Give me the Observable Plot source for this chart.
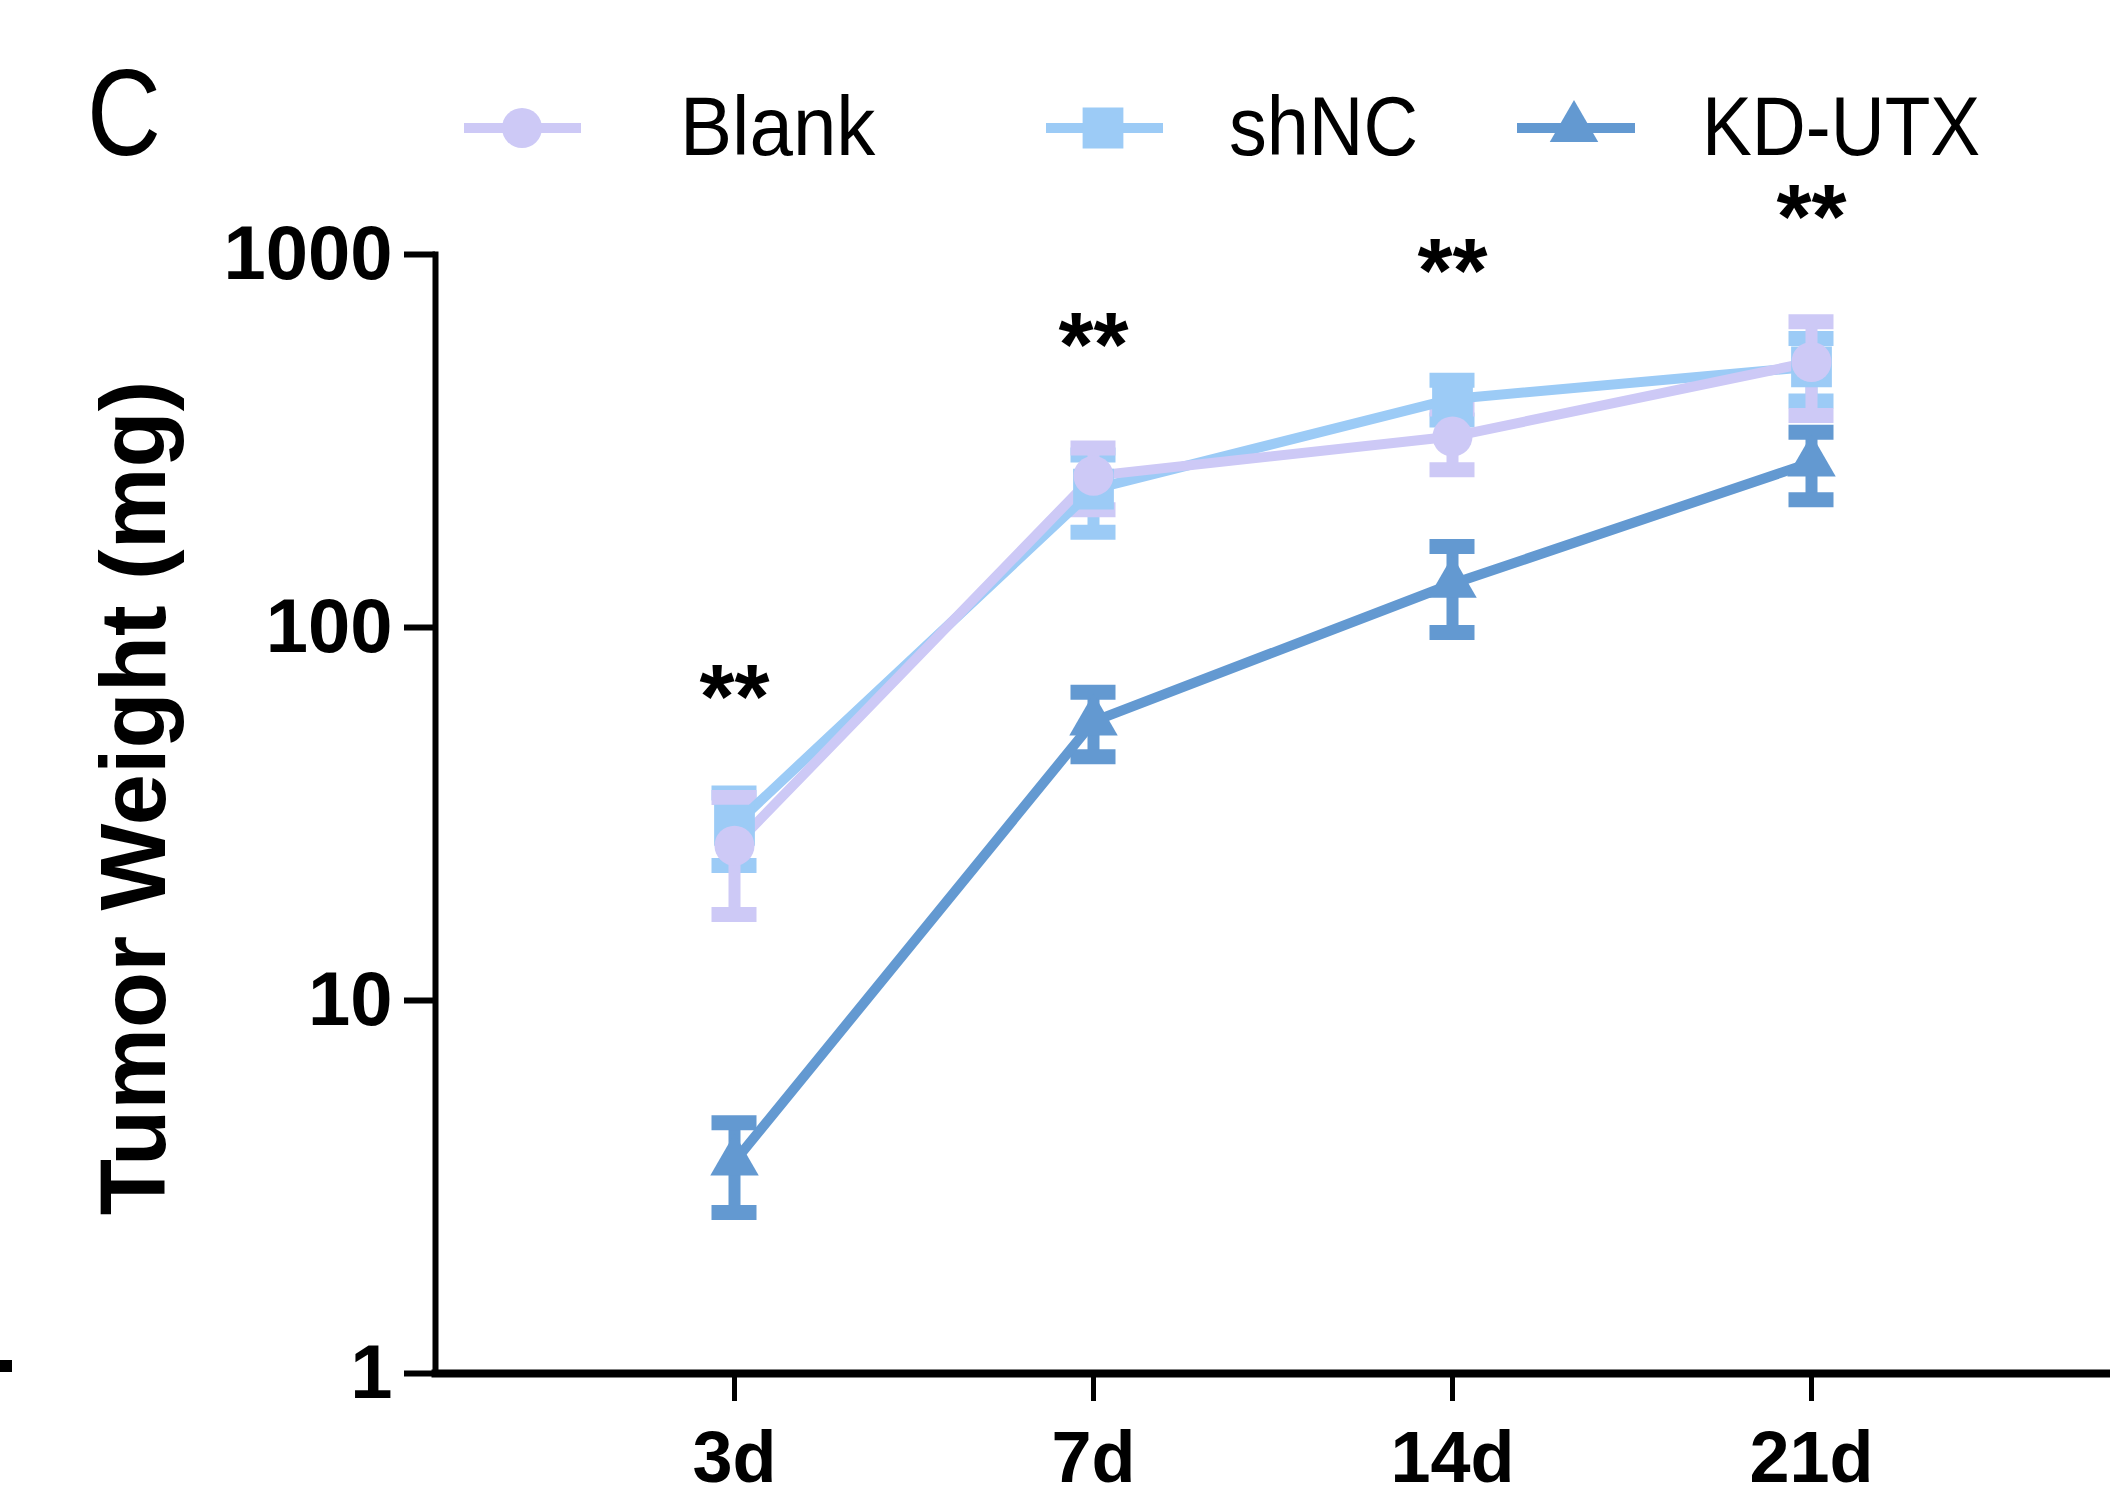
<!DOCTYPE html>
<html>
<head>
<meta charset="utf-8">
<script src="https://cdn.jsdelivr.net/npm/d3@7"></script>
<script src="https://cdn.jsdelivr.net/npm/@observablehq/plot@0.6"></script>
<style>
  html, body { margin: 0; padding: 0; background: #fff; }
  #wrap { position: relative; width: 2110px; height: 1508px; overflow: hidden; background: #fff; }
  #header { position: absolute; left: 0; top: 0; pointer-events: none; }
  #stray { position: absolute; left: 0; top: 1360px; width: 12px; height: 12px; background: #000; }
</style>
</head>
<body>
<div id="wrap">
  <div id="chart"></div>
  <svg id="header" width="2110" height="210" xmlns="http://www.w3.org/2000/svg"></svg>
  <div id="stray"></div>
</div>
<script>
// ---- data ----
const categories = ["3d", "7d", "14d", "21d"];
const seriesNames = ["Blank", "shNC", "KD-UTX"];
const blankMean = [26, 255, 325, 515];
const blankErr  = [9, 48, 60, 145];
const shncMean  = [29.5, 235, 410, 500];
const shncErr   = [6.5, 55, 50, 95];
const kdMean    = [3.7, 56, 131, 277];
const kdErr     = [1.0, 11, 34, 57];
const sigLabels = ["**", "**", "**", "**"];
const sigY      = [69.5, 610, 964, 1345];
const yTicks    = [1, 10, 100, 1000];
const yLabel    = ["Tumor Weight (mg)"];
const panelLabel = "C";

const colors = { "Blank": "#cdc9f6", "shNC": "#9ccbf6", "KD-UTX": "#6399d1" };
const symbols = { "Blank": "circle", "shNC": "square", "KD-UTX": "triangle" };
const radii = { "Blank": 20, "shNC": 23, "KD-UTX": 18 };

const means = { "Blank": blankMean, "shNC": shncMean, "KD-UTX": kdMean };
const errs  = { "Blank": blankErr,  "shNC": shncErr,  "KD-UTX": kdErr };

const drawOrder = ["shNC", "Blank", "KD-UTX"];
const rowsOf = (name) => categories.map((c, i) => ({
  series: name, cat: c, mean: means[name][i],
  lo: means[name][i] - errs[name][i], hi: means[name][i] + errs[name][i]
}));
const sigRows = categories.map((c, i) => ({ cat: c, y: sigY[i], label: sigLabels[i] }));

const errMarks = [], lineMarks = [], dotMarks = [];
for (const name of drawOrder) {
  const rows = rowsOf(name);
  const col = colors[name];
  errMarks.push(Plot.ruleX(rows, { x: "cat", y1: "lo", y2: "hi", stroke: col, strokeWidth: 12 }));
  errMarks.push(Plot.ruleY(rows, { x1: "cat", x2: "cat", y: "hi", insetLeft: -22.5, insetRight: -22.5, stroke: col, strokeWidth: 15 }));
  errMarks.push(Plot.ruleY(rows, { x1: "cat", x2: "cat", y: "lo", insetLeft: -22.5, insetRight: -22.5, stroke: col, strokeWidth: 15 }));
  lineMarks.push(Plot.line(rows, { x: "cat", y: "mean", stroke: col, strokeWidth: 10 }));
  dotMarks.push(Plot.dot(rows, { x: "cat", y: "mean", symbol: () => symbols[name], r: radii[name], fill: col, stroke: "none" }));
}

const chart = Plot.plot({
  width: 2110,
  height: 1508,
  marginLeft: 435,
  marginRight: 0,
  marginTop: 254,
  marginBottom: 135,
  style: { background: "white", color: "black", fontFamily: "Liberation Sans, Arial, sans-serif", overflow: "visible" },
  x: { type: "point", domain: categories, padding: 0.83 },
  y: { type: "log", domain: [1, 1000] },
  symbol: { type: "identity" },
  marks: [
    Plot.axisY({ ticks: yTicks, tickFormat: d => String(d), tickSize: 31, tickPadding: 12, strokeWidth: 6,
      fontSize: 76, fontWeight: "bold", fontFamily: "Liberation Sans", label: null }),
    Plot.axisX({ tickSize: 28, tickPadding: 29, strokeWidth: 5, fontSize: 72, fontWeight: "bold",
      fontFamily: "Liberation Sans", label: null }),
    Plot.frame({ anchor: "left", strokeWidth: 6 }),
    Plot.frame({ anchor: "bottom", strokeWidth: 8 }),
    Plot.text(yLabel, { text: d => d, frameAnchor: "left", rotate: -90, dx: -300, dy: -16, fontSize: 92,
      fontWeight: "bold", fontFamily: "Liberation Sans", textAnchor: "middle", lineAnchor: "middle", fill: "black" }),
    ...errMarks,
    ...lineMarks,
    ...dotMarks,
    Plot.text(sigRows, { x: "cat", y: "y", text: "label", fontSize: 90, fontWeight: "bold", fontFamily: "Liberation Sans",
      fill: "black", lineAnchor: "middle", dy: 13 })
  ]
});
document.getElementById("chart").appendChild(chart);

// ---- header overlay: panel label + legend ----
const ns = "http://www.w3.org/2000/svg";
const header = document.getElementById("header");
function el(tag, attrs, text) {
  const e = document.createElementNS(ns, tag);
  for (const k in attrs) e.setAttribute(k, attrs[k]);
  if (text != null) e.textContent = text;
  header.appendChild(e);
  return e;
}
el("text", { x: 0, y: 0, transform: "translate(87,155) scale(0.84,1)", "font-family": "Liberation Sans, Arial",
  "font-size": 122, fill: "#000" }, panelLabel);

const legendLayout = [
  { name: "Blank", x0: 464, x1: 581, cx: 522, tx: 680, sx: 0.93 },
  { name: "shNC", x0: 1046, x1: 1163, cx: 1103, tx: 1229, sx: 0.9 },
  { name: "KD-UTX", x0: 1517, x1: 1635, cx: 1574, tx: 1702, sx: 0.89 }
];
const cy = 128;
for (const item of legendLayout) {
  const col = colors[item.name];
  el("line", { x1: item.x0, x2: item.x1, y1: cy, y2: cy, stroke: col, "stroke-width": 10 });
  const sym = symbols[item.name];
  const size = Math.PI * radii[item.name] ** 2;
  const path = d3.symbol(sym === "circle" ? d3.symbolCircle : sym === "square" ? d3.symbolSquare : d3.symbolTriangle, size)();
  el("path", { d: path, transform: `translate(${item.cx},${cy})`, fill: col });
  el("text", { x: 0, y: 0, transform: `translate(${item.tx},155) scale(${item.sx},1)`, "font-family": "Liberation Sans, Arial",
    "font-size": 84, fill: "#000" }, item.name);
}
</script>
</body>
</html>
